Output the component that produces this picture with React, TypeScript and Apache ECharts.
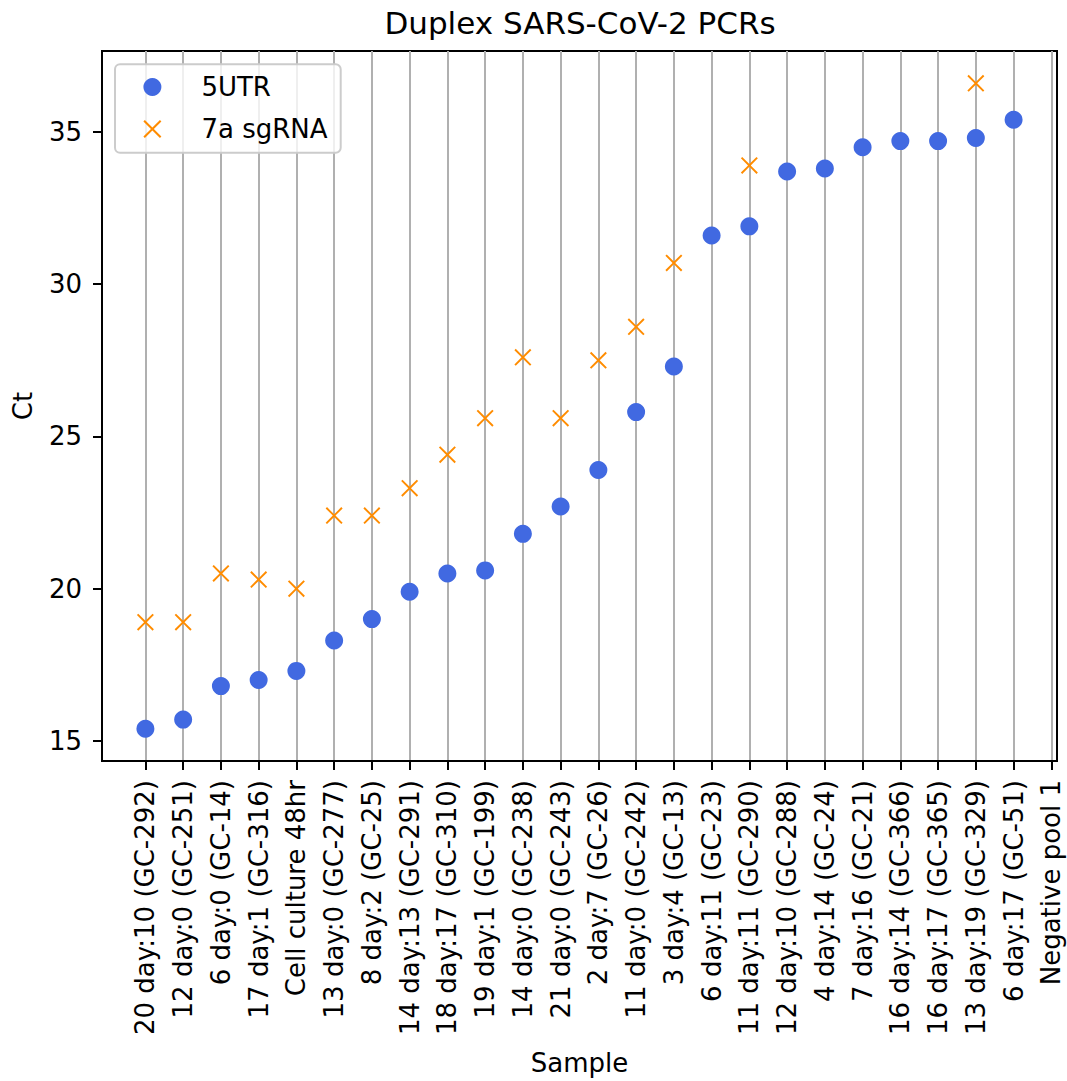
import React, { useEffect, useRef } from "react";
import * as echarts from "echarts";

const categories = [
  "20 day:10 (GC-292)",
  "12 day:0 (GC-251)",
  "6 day:0 (GC-14)",
  "17 day:1 (GC-316)",
  "Cell culture 48hr",
  "13 day:0 (GC-277)",
  "8 day:2 (GC-25)",
  "14 day:13 (GC-291)",
  "18 day:17 (GC-310)",
  "19 day:1 (GC-199)",
  "14 day:0 (GC-238)",
  "21 day:0 (GC-243)",
  "2 day:7 (GC-26)",
  "11 day:0 (GC-242)",
  "3 day:4 (GC-13)",
  "6 day:11 (GC-23)",
  "11 day:11 (GC-290)",
  "12 day:10 (GC-288)",
  "4 day:14 (GC-24)",
  "7 day:16 (GC-21)",
  "16 day:14 (GC-366)",
  "16 day:17 (GC-365)",
  "13 day:19 (GC-329)",
  "6 day:17 (GC-51)",
  "Negative pool 1",
];

const utr5: (number | null)[] = [
  15.4, 15.7, 16.8, 17.0, 17.3, 18.3, 19.0, 19.9, 20.5, 20.6, 21.8, 22.7, 23.9,
  25.8, 27.3, 31.6, 31.9, 33.7, 33.8, 34.5, 34.7, 34.7, 34.8, 35.4, null,
];

const sg7a: (number | null)[] = [
  18.9, 18.9, 20.5, 20.3, 20.0, 22.4, 22.4, 23.3, 24.4, 25.6, 27.6, 25.6, 27.5,
  28.6, 30.7, null, 33.9, null, null, null, null, null, 36.6, null, null,
];

const yTicks = [15, 20, 25, 30, 35];

const FONT = "DejaVu Sans";
const X_PATH =
  "path://M0,8 L8,0 L50,42 L92,0 L100,8 L58,50 L100,92 L92,100 L50,58 L8,100 L0,92 L42,50 Z";

function toPoints(arr: (number | null)[]) {
  const out: [number, number][] = [];
  arr.forEach((v, i) => {
    if (v != null) out.push([i, v]);
  });
  return out;
}

export default function App() {
  const ref = useRef<HTMLDivElement>(null);

  useEffect(() => {
    if (!ref.current) return;
    const chart = echarts.init(ref.current, undefined, { renderer: "svg" });

    const p1 = toPoints(utr5);
    const p2 = toPoints(sg7a);
    const all = [...p1, ...p2];
    const xs = all.map((p) => p[0]);
    const ys = all.map((p) => p[1]);
    const xMinD = Math.min(...xs);
    const xMaxD = Math.max(...xs);
    const yMinD = Math.min(...ys);
    const yMaxD = Math.max(...ys);
    const xm = (xMaxD - xMinD) * 0.05;
    const ym = (yMaxD - yMinD) * 0.05;
    const xTicks = categories.map((_, i) => i);

    chart.setOption({
      animation: false,
      backgroundColor: "#ffffff",
      textStyle: { fontFamily: FONT },
      title: {
        text: "Duplex SARS-CoV-2 PCRs",
        left: 580,
        top: 7,
        padding: 0,
        textAlign: "center",
        textStyle: {
          fontFamily: FONT,
          fontSize: 31,
          fontWeight: "normal",
          color: "#000000",
        },
      },
      grid: {
        left: 102,
        right: 10,
        top: 51,
        bottom: 320,
        show: true,
        borderColor: "#000000",
        borderWidth: 2,
        backgroundColor: "transparent",
      },
      legend: {
        orient: "vertical",
        left: 143.4,
        top: 74,
        padding: 0,
        itemWidth: 88,
        itemHeight: 18,
        itemGap: 16,
        textStyle: {
          fontFamily: FONT,
          fontSize: 26,
          color: "#000000",
          lineHeight: 26,
        },
        data: ["5UTR", "7a sgRNA"],
      },
      graphic: [
        {
          type: "rect",
          z: 3,
          shape: { x: 115, y: 64.3, width: 225.7, height: 88.4, r: 5 },
          style: {
            fill: "rgba(255,255,255,0.8)",
            stroke: "#cccccc",
            lineWidth: 2,
          },
        },
      ],
      xAxis: {
        type: "value",
        min: xMinD - xm,
        max: xMaxD + xm,
        name: "Sample",
        nameLocation: "middle",
        nameGap: 289,
        nameTextStyle: { fontFamily: FONT, fontSize: 26, color: "#000000" },
        axisLine: {
          show: true,
          onZero: false,
          lineStyle: { color: "#000000", width: 2 },
        },
        axisTick: {
          show: true,
          customValues: xTicks,
          length: 9,
          lineStyle: { color: "#000000", width: 2 },
        },
        axisLabel: {
          show: true,
          customValues: xTicks,
          rotate: 90,
          margin: 19,
          fontFamily: FONT,
          fontSize: 26,
          color: "#000000",
          formatter: (v: number) => categories[Math.round(v)] ?? "",
        },
        splitLine: {
          show: true,
          lineStyle: { color: "#b0b0b0", width: 2 },
        },
      },
      yAxis: {
        type: "value",
        min: yMinD - ym,
        max: yMaxD + ym,
        name: "Ct",
        nameLocation: "middle",
        nameRotate: 90,
        nameGap: 66,
        nameTextStyle: { fontFamily: FONT, fontSize: 26, color: "#000000" },
        axisLine: {
          show: true,
          onZero: false,
          lineStyle: { color: "#000000", width: 2 },
        },
        axisTick: {
          show: true,
          customValues: yTicks,
          length: 9,
          lineStyle: { color: "#000000", width: 2 },
        },
        axisLabel: {
          show: true,
          customValues: yTicks,
          margin: 20,
          fontFamily: FONT,
          fontSize: 26,
          color: "#000000",
          formatter: (v: number) => String(v),
        },
        splitLine: { show: false },
      },
      series: [
        {
          name: "5UTR",
          type: "scatter",
          symbol: "circle",
          symbolSize: 18,
          itemStyle: { color: "#4169e1", opacity: 1 },
          data: p1,
          z: 2,
        },
        {
          name: "7a sgRNA",
          type: "scatter",
          symbol: X_PATH,
          symbolSize: 17,
          itemStyle: { color: "#ff8c00", opacity: 1 },
          data: p2,
          z: 2,
        },
      ],
    });

    return () => chart.dispose();
  }, []);

  return (
    <div
      ref={ref}
      style={{
        position: "fixed",
        left: 0,
        top: 0,
        width: 1067,
        height: 1081,
        background: "#ffffff",
      }}
    />
  );
}
